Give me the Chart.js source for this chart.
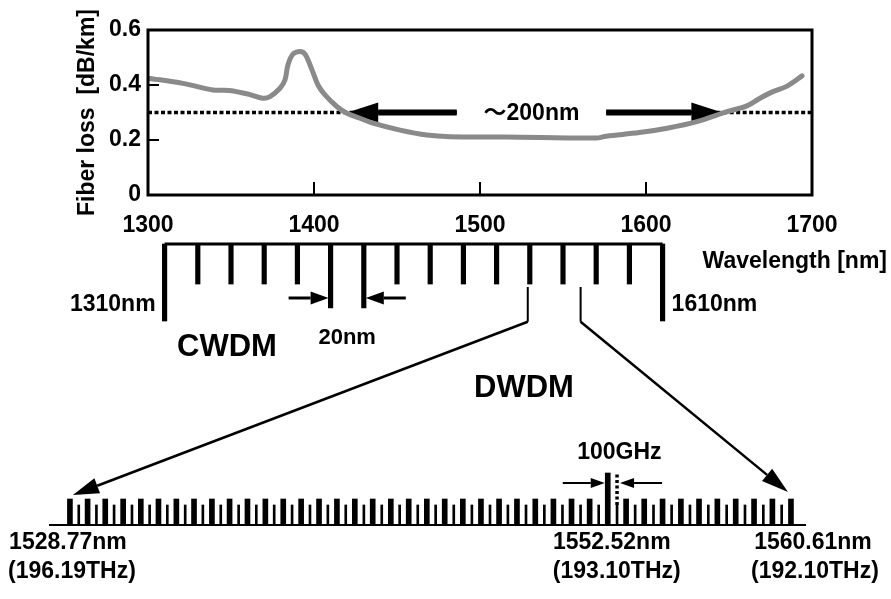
<!DOCTYPE html>
<html>
<head>
<meta charset="utf-8">
<script src="https://cdn.jsdelivr.net/npm/chart.js@4.4.1/dist/chart.umd.min.js"></script>
<style>
  html, body { margin: 0; padding: 0; background: #fff; }
  #wrap { position: relative; width: 891px; height: 599px; }
  #wrap canvas { position: absolute; left: 0; top: 0; }
</style>
</head>
<body>
<div id="wrap">
  <canvas id="loss" width="891" height="599"></canvas>
  <canvas id="cwdm" width="891" height="599"></canvas>
  <canvas id="dwdm" width="891" height="599"></canvas>
</div>
<script>
// ---- fibre attenuation curve ----
const wavelengthNm = [1300, 1321, 1339, 1349, 1361, 1369, 1373.5, 1379.5, 1382.5, 1384.3,
  1387.3, 1391.6, 1394.6, 1398.8, 1402.4, 1406.6, 1413.9, 1419.9, 1427.7, 1435.5,
  1451.8, 1468, 1482, 1516, 1570, 1576, 1596, 1612.7, 1630.7, 1648.8,
  1660.8, 1668.7, 1676.5, 1685, 1694];
const lossDbPerKm = [0.425, 0.406, 0.382, 0.380, 0.366, 0.352, 0.358, 0.388, 0.418, 0.473,
  0.512, 0.522, 0.512, 0.455, 0.400, 0.364, 0.321, 0.297, 0.279, 0.261,
  0.236, 0.218, 0.212, 0.211, 0.207, 0.214, 0.227, 0.243, 0.267, 0.303,
  0.324, 0.352, 0.376, 0.396, 0.433];
const lossThreshold = 0.3;            // dB/km level of the dotted line
const lowLossWindow = [1420, 1646];   // arrow tips of the ~200 nm window
const windowLabelGap = [1486, 1576];  // where the window label sits
const xTicks = [1300, 1400, 1500, 1600, 1700];
const yTicks = [0, 0.2, 0.4, 0.6];

// ---- CWDM grid (20 nm spacing) ----
const cwdmChannels = [1310, 1330, 1350, 1370, 1390, 1410, 1430, 1450, 1470, 1490,
  1510, 1530, 1550, 1570, 1590, 1610];
const cwdmSpacingPair = [1410, 1430];

// ---- DWDM grid (ITU 100 GHz channels, 50 GHz interleave) ----
const dwdm100GHz = [1528.77, 1529.55, 1530.33, 1531.12, 1531.90, 1532.68, 1533.47, 1534.25,
  1535.04, 1535.82, 1536.61, 1537.40, 1538.19, 1538.98, 1539.77, 1540.56, 1541.35, 1542.14,
  1542.94, 1543.73, 1544.53, 1545.32, 1546.12, 1546.92, 1547.72, 1548.51, 1549.32, 1550.12,
  1550.92, 1551.72, 1552.52, 1553.33, 1554.13, 1554.94, 1555.75, 1556.55, 1557.36, 1558.17,
  1558.98, 1559.79, 1560.61];
const dwdm50GHz = [1529.16, 1529.94, 1530.72, 1531.51, 1532.29, 1533.07, 1533.86, 1534.64,
  1535.43, 1536.22, 1537.00, 1537.79, 1538.58, 1539.37, 1540.16, 1540.95, 1541.75, 1542.54,
  1543.33, 1544.13, 1544.92, 1545.72, 1546.52, 1547.32, 1548.11, 1548.91, 1549.72, 1550.52,
  1551.32, 1552.12, 1552.93, 1553.73, 1554.54, 1555.34, 1556.15, 1556.96, 1557.77, 1558.58,
  1559.39, 1560.20];
const markedChannel = 1552.52;
const markedNeighbour = 1552.93;
const dwdmLabelNm = [1528.77, 1552.52, 1560.61];
const dwdmLabelThz = ['196.19', '193.10', '192.10'];

// ---- shared styling ----
const FONT = '"Liberation Sans", "Noto Sans CJK JP", Arial, sans-serif';
const font = (px) => 'bold ' + px + 'px ' + FONT;
const common = {
  animation: false, responsive: false, events: [],
  plugins: { legend: { display: false }, tooltip: { enabled: false } }
};

function arrow(ctx, x1, y1, x2, y2, lw, headLen, headHalf) {
  const a = Math.atan2(y2 - y1, x2 - x1);
  const bx = x2 - headLen * Math.cos(a), by = y2 - headLen * Math.sin(a);
  ctx.save();
  ctx.strokeStyle = ctx.fillStyle = '#000';
  ctx.lineWidth = lw;
  ctx.beginPath(); ctx.moveTo(x1, y1); ctx.lineTo(bx, by); ctx.stroke();
  ctx.beginPath(); ctx.moveTo(x2, y2);
  ctx.lineTo(bx + headHalf * Math.sin(a), by - headHalf * Math.cos(a));
  ctx.lineTo(bx - headHalf * Math.sin(a), by + headHalf * Math.cos(a));
  ctx.closePath(); ctx.fill();
  ctx.restore();
}
function text(ctx, str, x, y, px, align) {
  ctx.save();
  ctx.fillStyle = '#000';
  ctx.font = font(px);
  ctx.textAlign = align || 'center';
  ctx.textBaseline = 'middle';
  ctx.fillText(str, x, y);
  ctx.restore();
}

// ---- attenuation chart ----
const lossDecor = {
  id: 'lossDecor',
  beforeDatasetsDraw(chart) {
    const { ctx, scales: { x, y } } = chart;
    const yl = y.getPixelForValue(lossThreshold);
    arrow(ctx, x.getPixelForValue(windowLabelGap[0]), yl, x.getPixelForValue(lowLossWindow[0]), yl, 6, 31, 10);
    arrow(ctx, x.getPixelForValue(windowLabelGap[1]), yl, x.getPixelForValue(lowLossWindow[1]), yl, 6, 31, 10);
    const mid = (windowLabelGap[0] + windowLabelGap[1]) / 2;
    text(ctx, '～200nm', x.getPixelForValue(mid), yl + 1, 23);
  },
  afterDraw(chart) {
    const { ctx, chartArea: a, scales: { x, y } } = chart;
    ctx.save();
    ctx.strokeStyle = '#000';
    ctx.lineWidth = 3;
    ctx.strokeRect(a.left, a.top, a.right - a.left, a.bottom - a.top);
    ctx.lineWidth = 2;
    ctx.beginPath();
    xTicks.slice(1, -1).forEach(v => {
      const px = x.getPixelForValue(v);
      ctx.moveTo(px, a.bottom); ctx.lineTo(px, a.bottom - 13);
    });
    yTicks.slice(1, -1).forEach(v => {
      const py = y.getPixelForValue(v);
      ctx.moveTo(a.left, py); ctx.lineTo(a.left + 11, py);
    });
    ctx.stroke();
    ctx.restore();
    text(ctx, 'Wavelength [nm]', a.right + 75, 262, 23, 'right');
  }
};

const lossChart = new Chart(document.getElementById('loss'), {
  type: 'line',
  data: {
    datasets: [
      {
        data: wavelengthNm.map((v, i) => ({ x: v, y: lossDbPerKm[i] })),
        borderColor: '#8a8a8a', borderWidth: 5, pointRadius: 0, tension: 0.35,
        borderCapStyle: 'round', borderJoinStyle: 'round'
      },
      {
        data: [
          { x: xTicks[0], y: lossThreshold }, { x: windowLabelGap[0], y: lossThreshold },
          { x: windowLabelGap[0], y: null },
          { x: windowLabelGap[1], y: lossThreshold }, { x: xTicks[xTicks.length - 1], y: lossThreshold }
        ],
        borderColor: '#000', borderWidth: 3.5, borderDash: [4, 2.5], pointRadius: 0, spanGaps: false
      }
    ]
  },
  options: {
    ...common,
    layout: { padding: { left: 60, top: 30, right: 79, bottom: 359 } },
    scales: {
      x: {
        type: 'linear', min: 1300, max: 1700,
        afterBuildTicks: s => { s.ticks = xTicks.map(v => ({ value: v })); },
        afterFit: s => { s.height = 45; },
        grid: { display: false, drawTicks: false },
        border: { display: false },
        ticks: { padding: 17, color: '#000', maxRotation: 0, autoSkip: false,
                 font: { family: FONT, size: 23, weight: 'bold' },
                 callback: v => String(v) }
      },
      y: {
        min: 0, max: 0.6,
        afterBuildTicks: s => { s.ticks = yTicks.map(v => ({ value: v })); },
        afterFit: s => { s.width = 88; },
        grid: { display: false, drawTicks: false },
        border: { display: false },
        ticks: { padding: 7, color: '#000', font: { family: FONT, size: 23, weight: 'bold' },
                 callback: v => v === 0 ? '0' : v.toFixed(1) },
        title: { display: true, text: 'Fiber loss  [dB/km]', color: '#000',
                 font: { family: FONT, size: 23, weight: 'bold' }, padding: { top: 14, bottom: 0 } }
      }
    }
  },
  plugins: [lossDecor]
});

// ---- CWDM comb (same wavelength axis as the attenuation chart) ----
const cwdmMark = x => (x === cwdmChannels[0] || x === cwdmChannels[cwdmChannels.length - 1]) ? 1
  : (cwdmSpacingPair.includes(x) ? 0.83 : 0.52);

const cwdmDecor = {
  id: 'cwdmDecor',
  afterDraw(chart) {
    const { ctx, scales: { x } } = chart;
    const first = cwdmChannels[0], last = cwdmChannels[cwdmChannels.length - 1];
    text(ctx, first + 'nm', x.getPixelForValue(first) - 9, 305, 23, 'right');
    text(ctx, last + 'nm', x.getPixelForValue(last) + 9, 305, 23, 'left');
    const pa = x.getPixelForValue(cwdmSpacingPair[0]);
    const pb = x.getPixelForValue(cwdmSpacingPair[1]);
    arrow(ctx, pa - 42, 298, pa - 2, 298, 3, 18, 6.5);
    arrow(ctx, pb + 42, 298, pb + 2, 298, 3, 18, 6.5);
    text(ctx, (cwdmSpacingPair[1] - cwdmSpacingPair[0]) + 'nm', (pa + pb) / 2, 338, 22);
    text(ctx, 'CWDM', 227, 347, 31);
  }
};

const cwdmChart = new Chart(document.getElementById('cwdm'), {
  type: 'bar',
  data: {
    datasets: [
      {
        type: 'line',
        data: [{ x: cwdmChannels[0], y: 0 }, { x: cwdmChannels[cwdmChannels.length - 1], y: 0 }],
        borderColor: '#000', borderWidth: 3, pointRadius: 0, clip: false
      },
      {
        data: cwdmChannels.map(c => ({ x: c, y: [0, cwdmMark(c)] })),
        backgroundColor: '#000', barThickness: 4.5, grouped: false, clip: false
      }
    ]
  },
  options: {
    ...common,
    layout: { padding: { left: 148, right: 79, top: 244, bottom: 278 } },
    scales: {
      x: { type: 'linear', min: 1300, max: 1700, display: false, offset: false },
      y: { reverse: true, min: 0, max: 1, display: false }
    }
  },
  plugins: [cwdmDecor]
});

// ---- DWDM comb ----
const dwdmDecor = {
  id: 'dwdmDecor',
  afterDraw(chart) {
    const { ctx, scales: { x, y } } = chart;
    const bx = cwdmChart.scales.x, by = cwdmChart.scales.y;
    const lo = dwdm100GHz[0], hi = dwdm100GHz[dwdm100GHz.length - 1];
    const top = y.getPixelForValue(1);

    // lead lines from the C-band slice of the CWDM grid to the DWDM comb
    ctx.save();
    ctx.strokeStyle = '#000';
    ctx.lineWidth = 2;
    ctx.beginPath();
    [lo, hi].forEach(v => {
      const px = bx.getPixelForValue(v);
      ctx.moveTo(px, by.getPixelForValue(0.56));
      ctx.lineTo(px, by.getPixelForValue(1.01));
    });
    ctx.stroke();
    ctx.restore();
    arrow(ctx, bx.getPixelForValue(lo), by.getPixelForValue(1.01), x.getPixelForValue(lo) + 3, top - 4, 2.5, 26, 8);
    arrow(ctx, bx.getPixelForValue(hi), by.getPixelForValue(1.01), x.getPixelForValue(hi) - 3, top - 7, 2.5, 27, 8);
    text(ctx, 'DWDM', 524, 388, 31);

    // 100 GHz spacing marker
    const pm = x.getPixelForValue(markedChannel), pn = x.getPixelForValue(markedNeighbour);
    arrow(ctx, pm - 45, 483, pm - 3, 483, 2, 14, 5);
    arrow(ctx, pn + 45, 483, pn + 3, 483, 2, 14, 5);
    text(ctx, '100GHz', (pm + pn) / 2 + 7, 453, 23);

    // channel labels
    const dxNm = [-2, 4, 22], dxThz = [2, 9, 24];
    dwdmLabelNm.forEach((v, i) => {
      const px = x.getPixelForValue(v);
      text(ctx, v.toFixed(2) + 'nm', px + dxNm[i], 543, 23);
      text(ctx, '(' + dwdmLabelThz[i] + 'THz)', px + dxThz[i], 572, 23);
    });
  }
};

const dwdmChart = new Chart(document.getElementById('dwdm'), {
  type: 'bar',
  data: {
    datasets: [
      {
        type: 'line',
        data: [{ x: markedNeighbour, y: 0.77 }, { x: markedNeighbour, y: 2 }],
        borderColor: '#000', borderWidth: 3.5, borderDash: [3, 2.5], pointRadius: 0, clip: false
      },
      {
        data: dwdm100GHz.map(c => ({ x: c, y: [0, c === markedChannel ? 2 : 1] })),
        backgroundColor: '#000', barThickness: 5, grouped: false, clip: false
      },
      {
        data: dwdm50GHz.map(c => ({ x: c, y: [0, 0.77] })),
        backgroundColor: '#000', barThickness: 2, grouped: false, clip: false
      }
    ]
  },
  options: {
    ...common,
    layout: { padding: { left: 50, right: 86, top: 473, bottom: 74 } },
    scales: {
      x: {
        type: 'linear', min: 1527.89, max: 1561.23, offset: false,
        afterFit: s => { s.height = 0; },
        grid: { display: false, drawTicks: false },
        ticks: { display: false },
        border: { display: true, color: '#000', width: 2 }
      },
      y: { min: 0, max: 2, display: false }
    }
  },
  plugins: [dwdmDecor]
});
</script>
</body>
</html>
